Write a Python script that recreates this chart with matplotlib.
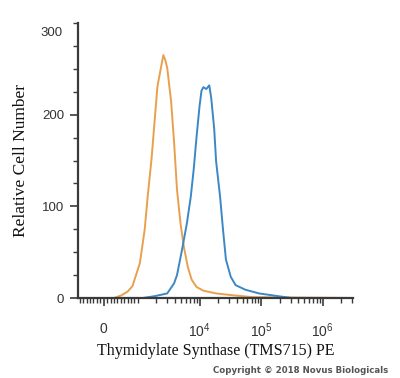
import numpy as np
import matplotlib
matplotlib.use("Agg")
import matplotlib.pyplot as plt

# Histogram traces (x = PE intensity, y = cell count)
orange_x = [-750, 100, 300, 524, 700, 841, 1076, 1291, 1442, 1667, 1862, 2077, 2200,
            2318, 2588, 2800, 2993, 3465, 3865, 4313, 4945, 5570, 6450, 7460,
            8960, 11560, 18600, 34700, 71900, 3.1e6]
orange_y = [0, 0, 0, 3, 7, 13, 38, 75, 111, 152, 192, 231, 240,
            248, 265, 259, 251, 214, 170, 118, 80, 56, 34, 20,
            12, 8, 5, 3, 1, 0]

blue_x = [-750, 500, 1200, 1862, 2993, 3865, 4313, 5180, 6220, 7200, 8040, 8960,
          10000, 10760, 11560, 12900, 14420, 15500, 17300, 18600, 21540, 24040,
          26830, 32200, 38600, 55700, 92900, 149600, 310000, 3.1e6]
blue_y = [0, 0, 0, 2, 5, 16, 25, 52, 81, 110, 140, 176,
          209, 226, 230, 228, 232, 218, 185, 149, 111, 75,
          42, 23, 14, 9, 5, 3, 0, 0]

x_major = [0, 1e4, 1e5, 1e6]
x_labels = ["0", r"$\mathregular{10^{4}}$", r"$\mathregular{10^{5}}$", r"$\mathregular{10^{6}}$"]
y_major = [0, 100, 200]

plt.rcParams["font.family"] = "Liberation Sans"

fig = plt.figure(figsize=(4.0, 3.78), dpi=100)
ax = fig.add_axes([0.195, 0.2116, 0.6875, 0.7275])

ax.plot(orange_x, orange_y, color="#E9A04E", lw=1.4)
ax.plot(blue_x, blue_y, color="#3C88C6", lw=1.4)

ax.set_xscale("symlog", linthresh=1000, linscale=0.5)
ax.set_xlim(-750, 3.1e6)
ax.set_ylim(0, 300)

# ticks
minor_x = list(range(-700, 1000, 100))
for dec in [1e3, 1e4, 1e5, 1e6]:
    minor_x += [k * dec for k in range(1, 10) if k * dec < 3.1e6]
ax.set_xticks(x_major)
ax.set_xticklabels(x_labels)
ax.set_xticks(minor_x, minor=True)
ax.set_yticks(y_major)
ax.set_yticks(np.arange(0, 301, 25), minor=True)

axis_col = "#3a3a3a"
ax.tick_params(axis="both", which="major", length=6, width=1.2, color=axis_col,
               labelsize=9.5, labelcolor="#333333", pad=4)
ax.tick_params(axis="both", which="minor", length=3.5, width=1.0, color=axis_col)
ax.tick_params(axis="x", which="major", pad=11, labelsize=10)

# 300 label sits a bit below its tick in the original
ax.annotate("300", xy=(0, 300), xycoords=("axes fraction", "data"),
            xytext=(-11, -7), textcoords="offset points",
            ha="right", va="center", fontsize=9.5, color="#333333")

for side in ["top", "right"]:
    ax.spines[side].set_visible(False)
for side in ["left", "bottom"]:
    ax.spines[side].set_color(axis_col)
    ax.spines[side].set_linewidth(1.6)

ax.set_xlabel("Thymidylate Synthase (TMS715) PE", family="Liberation Serif",
              fontsize=11.5, color="#111111", labelpad=2)
ax.set_ylabel("Relative Cell Number", family="Liberation Serif",
              fontsize=12.5, color="#111111", labelpad=9)

fig.text(0.97, 0.021, "Copyright \u00a9 2018 Novus Biologicals", ha="right",
         va="center", fontsize=6.2, color="#555555", fontweight="bold",
         family="DejaVu Sans")

fig.savefig("out.png", dpi=100, facecolor="white")
